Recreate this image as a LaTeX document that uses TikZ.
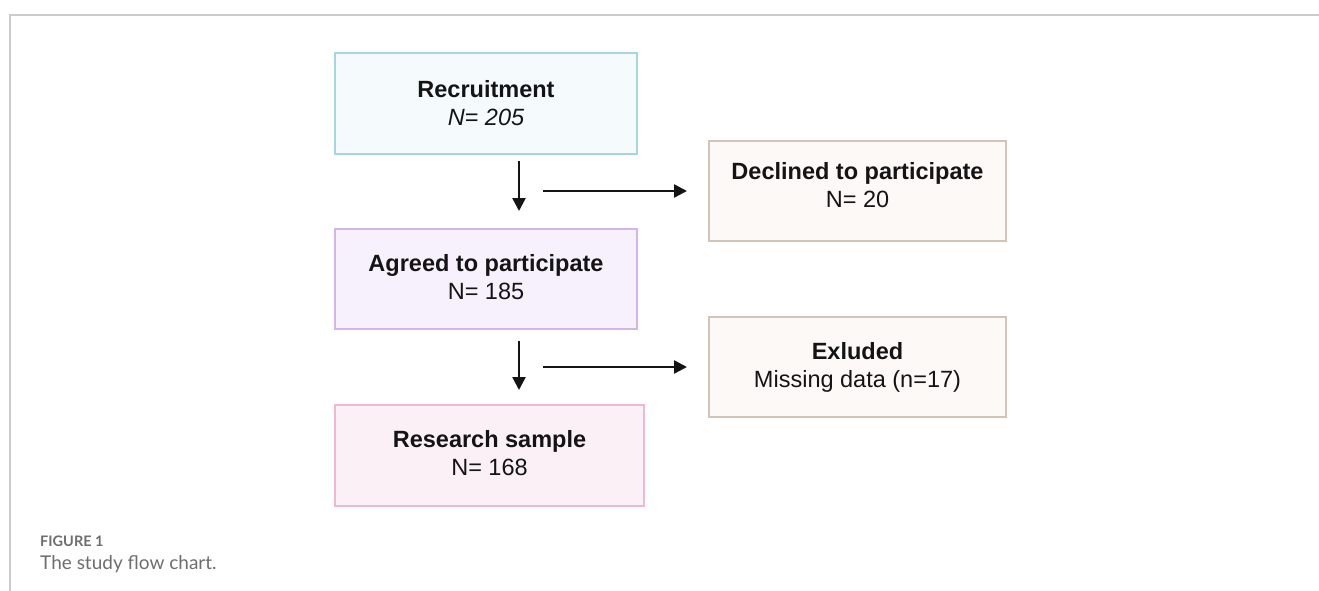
\documentclass[tikz,border=0pt]{standalone}
\usepackage{fontspec}
\setmainfont{Liberation Sans}
\newfontfamily\capfont{Lato}
\usetikzlibrary{arrows.meta}
\definecolor{txt}{HTML}{141414}
\definecolor{frame}{HTML}{CCCCCC}
\definecolor{capgray}{HTML}{6E6E6E}
\definecolor{blueB}{HTML}{A9D6DE}
\definecolor{blueF}{HTML}{F5FBFD}
\definecolor{lilaB}{HTML}{D3B5EA}
\definecolor{lilaF}{HTML}{F7F1FD}
\definecolor{pinkB}{HTML}{F0B9D3}
\definecolor{pinkF}{HTML}{FCF0F7}
\definecolor{tanB}{HTML}{D6C3B8}
\definecolor{tanF}{HTML}{FDF9F6}
\tikzset{
  box/.style={draw, line width=2pt, rectangle, align=center, text=txt,
    font=\fontsize{23.5}{28}\selectfont, inner sep=0pt},
  boxtext/.style={text=txt, font=\fontsize{23.5}{28}\selectfont, align=center, inner sep=0pt},
  arr/.style={line width=2.4pt, draw=txt, -{Triangle[length=13pt,width=13pt]}},
}
\begin{document}
\begin{tikzpicture}[x=1pt,y=-1pt]
\useasboundingbox[fill=white] (0,0) rectangle (1319,591);
\draw[frame, line width=1.5pt] (10,591) -- (10,15) -- (1319,15);

\node[box, draw=blueB, fill=blueF, minimum width=302pt, minimum height=101pt]
  (rec) at (486,103.5) {\textbf{Recruitment}\\\textit{N= 205}};
\node[box, draw=tanB, fill=tanF, minimum width=297pt, minimum height=100pt]
  (dec) at (857.5,191) {};
\node[boxtext] (dect) at (857.5,185) {\textbf{Declined to participate}\\N= 20};
\node[box, draw=lilaB, fill=lilaF, minimum width=302pt, minimum height=100pt]
  (agr) at (486,279) {};
\node[boxtext] (agrt) at (486,277.5) {\textbf{Agreed to participate}\\N= 185};
\node[box, draw=tanB, fill=tanF, minimum width=297pt, minimum height=100pt]
  (exc) at (857.5,367) {\textbf{Exluded}\\Missing data (n=17)};
\node[box, draw=pinkB, fill=pinkF, minimum width=309pt, minimum height=101pt]
  (res) at (489.5,455.5) {};
\node[boxtext] (rest) at (489.5,453) {\textbf{Research sample}\\N= 168};

\coordinate (h1) at (543,191);
\coordinate (h2) at (543,367);

\draw[arr, shorten <=6pt, shorten >=17pt] ([xshift=33pt]rec.south) -- ([xshift=33pt]agr.north);
\draw[arr, shorten <=11pt, shorten >=14pt] ([xshift=33pt]agr.south) -- ([xshift=29.5pt]res.north);
\draw[arr, shorten >=21pt] (h1) -- (dec.west);
\draw[arr, shorten >=21pt] (h2) -- (exc.west);

\node[anchor=base west, text=capgray, inner sep=0pt, font=\capfont\bfseries\fontsize{14.5}{16}\selectfont]
  (fig) at (40,546) {FIGURE 1};
\node[anchor=base west, text=capgray, inner sep=0pt, font=\capfont\fontsize{19}{22}\selectfont]
  (cap) at (40,569) {The study flow chart.};
\end{tikzpicture}
\end{document}
